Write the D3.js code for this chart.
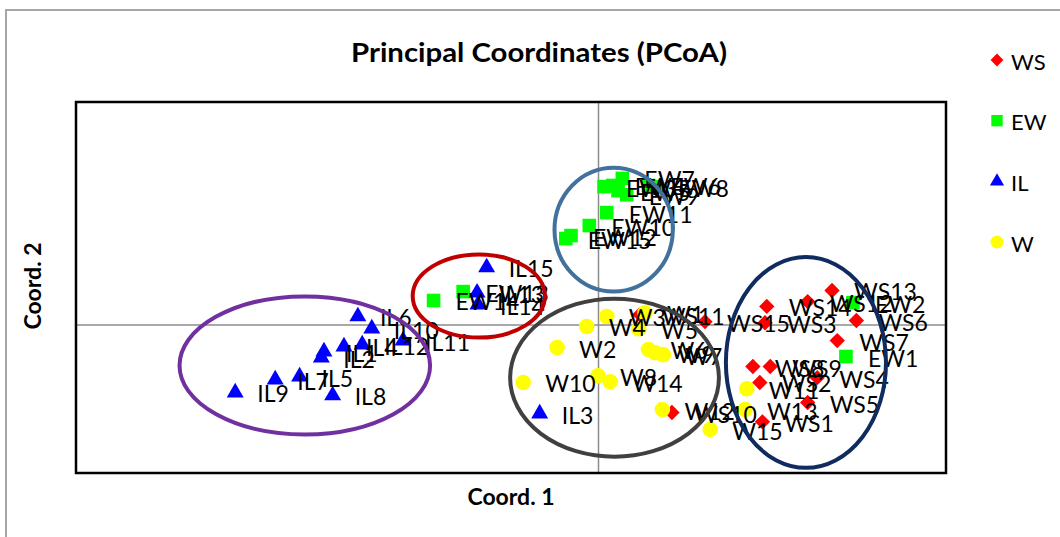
<!DOCTYPE html>
<html>
<head>
<meta charset="utf-8">
<script src="https://cdn.jsdelivr.net/npm/d3@7"></script>
<style>
  html, body { margin: 0; padding: 0; background: #fff; }
  svg { display: block; font-family: Lato, "Open Sans", "DejaVu Sans", sans-serif; }
</style>
</head>
<body>
<svg id="chart" width="1060" height="537"></svg>
<script>
// Sample groups and their PCoA scores (Coord. 1, Coord. 2)
const seriesNames = ["WS", "EW", "IL", "W"];

const wsLabels = ["WS1","WS2","WS3","WS4","WS5","WS6","WS7","WS8","WS9","WS10","WS11","WS12","WS13","WS14","WS15"];
const wsCoord1 = [0.189, 0.186, 0.192, 0.252, 0.241, 0.297, 0.275, 0.178, 0.198, 0.085, 0.048, 0.241, 0.269, 0.194, 0.123];
const wsCoord2 = [-0.262, -0.156, 0.005, -0.143, -0.210, 0.011, -0.043, -0.113, -0.113, -0.237, 0.027, 0.062, 0.092, 0.049, 0.008];

const ewLabels = ["EW1","EW2","EW3","EW4","EW5","EW6","EW7","EW8","EW9","EW10","EW11","EW12","EW13","EW14","EW15"];
const ewCoord1 = [0.285, 0.293, 0.007, 0.017, 0.023, 0.058, 0.028, 0.067, 0.033, -0.010, 0.010, -0.031, -0.155, -0.189, -0.037];
const ewCoord2 = [-0.086, 0.059, 0.372, 0.375, 0.361, 0.375, 0.394, 0.372, 0.350, 0.267, 0.302, 0.240, 0.089, 0.065, 0.232];

const ilLabels = ["IL1","IL2","IL3","IL4","IL5","IL6","IL7","IL8","IL9","IL10","IL11","IL12","IL13","IL14","IL15"];
const ilCoord1 = [-0.315, -0.318, -0.067, -0.292, -0.343, -0.276, -0.371, -0.305, -0.417, -0.260, -0.224, -0.271, -0.139, -0.138, -0.128];
const ilCoord2 = [-0.073, -0.089, -0.240, -0.059, -0.140, 0.022, -0.148, -0.191, -0.183, -0.011, -0.043, -0.054, 0.086, 0.054, 0.154];

const wLabels = ["W1","W2","W3","W4","W5","W6","W7","W8","W9","W10","W11","W12","W13","W14","W15"];
const wCoord1 = [0.054, -0.047, 0.010, -0.013, 0.047, 0.058, 0.075, 0.000, 0.066, -0.086, 0.171, 0.074, 0.169, 0.014, 0.129];
const wCoord2 = [0.032, -0.062, 0.022, -0.005, -0.011, -0.067, -0.081, -0.138, -0.076, -0.156, -0.173, -0.229, -0.229, -0.154, -0.283];

// Axis ranges
const xDomain = [-0.6, 0.4];
const yDomain = [-0.4, 0.6];

// Cluster outlines: centre and semi-axes in coordinate units
const clusterCx = [-0.337, -0.137, 0.018, 0.019, 0.239];
const clusterCy = [-0.110, 0.077, 0.256, -0.143, -0.102];
const clusterRx = [0.144, 0.076, 0.068, 0.120, 0.092];
const clusterRy = [0.186, 0.112, 0.167, 0.213, 0.284];
const clusterColors = ["#7030a0", "#c00000", "#41719c", "#404040", "#0f2b5f"];

const titleText = "Principal Coordinates (PCoA)";
const xTitle = "Coord. 1";
const yTitle = "Coord. 2";

// ---------------------------------------------------------------
const svg = d3.select("#chart");
const W = 1060, H = 537;
const plot = { left: 76, top: 102, right: 946, bottom: 473 };

const x = d3.scaleLinear().domain(xDomain).range([plot.left, plot.right]);
const y = d3.scaleLinear().domain(yDomain).range([plot.bottom, plot.top]);

// outer chart frame
svg.append("rect")
  .attr("x", 6).attr("y", 10)
  .attr("width", W + 20).attr("height", H + 20)
  .attr("fill", "#fff")
  .attr("stroke", "#a6a6a6").attr("stroke-width", 2);

// title
svg.append("text")
  .attr("x", 539).attr("y", 52)
  .attr("text-anchor", "middle").attr("dominant-baseline", "central")
  .attr("font-size", 26).attr("font-weight", "bold")
  .attr("textLength", 376).attr("lengthAdjust", "spacingAndGlyphs")
  .text(titleText);

// zero axes through the origin, drawn with d3 axes (no ticks/labels)
svg.append("g")
  .attr("transform", `translate(0,${y(0)})`)
  .call(d3.axisBottom(x).tickValues([]).tickSizeOuter(0))
  .call(g => g.select(".domain").attr("stroke", "#8c8c8c").attr("stroke-width", 1.5));
svg.append("g")
  .attr("transform", `translate(${x(0)},0)`)
  .call(d3.axisLeft(y).tickValues([]).tickSizeOuter(0))
  .call(g => g.select(".domain").attr("stroke", "#8c8c8c").attr("stroke-width", 1.5));

// plot frame
svg.append("rect")
  .attr("x", plot.left).attr("y", plot.top)
  .attr("width", plot.right - plot.left).attr("height", plot.bottom - plot.top)
  .attr("fill", "none").attr("stroke", "#000").attr("stroke-width", 2.5);

// axis titles
svg.append("text")
  .attr("x", 511).attr("y", 496)
  .attr("text-anchor", "middle").attr("dominant-baseline", "central")
  .attr("font-size", 23).attr("font-weight", "bold")
  .text(xTitle);
svg.append("text")
  .attr("transform", "translate(32,286) rotate(-90)")
  .attr("text-anchor", "middle").attr("dominant-baseline", "central")
  .attr("font-size", 23).attr("font-weight", "bold")
  .text(yTitle);

// series definitions
const zip = (labels, xs, ys) => labels.map((l, i) => ({ label: l, c1: xs[i], c2: ys[i] }));
const series = [
  { name: seriesNames[0], color: "#ff0000", symbol: d3.symbolDiamond2, size: 150, data: zip(wsLabels, wsCoord1, wsCoord2) },
  { name: seriesNames[1], color: "#00ff00", symbol: d3.symbolSquare,   size: 185, data: zip(ewLabels, ewCoord1, ewCoord2) },
  { name: seriesNames[2], color: "#0000ff", symbol: d3.symbolTriangle, size: 125, data: zip(ilLabels, ilCoord1, ilCoord2) },
  { name: seriesNames[3], color: "#ffff00", symbol: d3.symbolCircle,   size: 190, data: zip(wLabels, wCoord1, wCoord2) }
];

// markers
series.forEach(s => {
  svg.append("g")
    .selectAll("path")
    .data(s.data)
    .join("path")
    .attr("transform", d => `translate(${x(d.c1)},${y(d.c2)})`)
    .attr("d", d3.symbol(s.symbol, s.size))
    .attr("fill", s.color);
});

// point labels (to the right of each marker)
series.forEach(s => {
  svg.append("g")
    .selectAll("text")
    .data(s.data)
    .join("text")
    .attr("x", d => x(d.c1) + 22)
    .attr("y", d => y(d.c2) + 1)
    .attr("dominant-baseline", "central")
    .attr("font-size", 23)
    .attr("fill", "#000")
    .text(d => d.label);
});

// cluster outlines
svg.append("g")
  .selectAll("ellipse")
  .data(clusterCx.map((c, i) => i))
  .join("ellipse")
  .attr("cx", i => x(clusterCx[i]))
  .attr("cy", i => y(clusterCy[i]))
  .attr("rx", i => x(clusterCx[i] + clusterRx[i]) - x(clusterCx[i]))
  .attr("ry", i => y(clusterCy[i]) - y(clusterCy[i] + clusterRy[i]))
  .attr("fill", "none")
  .attr("stroke", i => clusterColors[i])
  .attr("stroke-width", 4);

// legend
const legend = svg.append("g");
const legendY = d3.scalePoint().domain(seriesNames).range([60, 242]);
series.forEach(s => {
  const g = legend.append("g").attr("transform", `translate(997,${legendY(s.name)})`);
  g.append("path").attr("d", d3.symbol(s.symbol, s.size * 0.7)).attr("fill", s.color);
  g.append("text")
    .attr("x", 14).attr("y", 1)
    .attr("dominant-baseline", "central")
    .attr("font-size", 22)
    .text(s.name);
});
</script>
</body>
</html>
